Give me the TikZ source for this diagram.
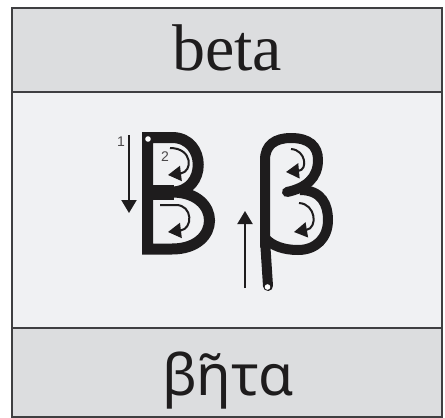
\documentclass[tikz,border=0pt]{standalone}
\usepackage{fontspec}
\setmainfont{Liberation Serif}
\newfontfamily\greekfont{Noto Sans}
\newfontfamily\numfont{Liberation Sans}
\usetikzlibrary{arrows.meta}

\definecolor{bandgray}{HTML}{DCDDDF}
\definecolor{midgray}{HTML}{F0F1F3}
\definecolor{rulegray}{HTML}{3F3F41}
\definecolor{ink}{HTML}{1E1C1D}

\begin{document}
\begin{tikzpicture}[
  x=1pt, y=-1pt,
  band/.style={draw=rulegray, line width=2pt},
  glyph/.style={draw=ink, line width=11pt},
  stroke/.style={draw=ink, line width=2pt, -{Triangle[length=13pt, width=15pt]}},
  hole/.style={fill=white},
  num/.style={font=\numfont\fontsize{14}{14}\selectfont, text=ink!80, inner sep=0pt}
]
  \useasboundingbox (0,0) rectangle (445,418);

  % bands
  \filldraw[band, fill=bandgray] (12,8) rectangle (442,92);
  \filldraw[band, fill=midgray] (12,92) rectangle (442,328);
  \filldraw[band, fill=bandgray] (12,328) rectangle (442,417);

  \node[anchor=base, font=\rmfamily\fontsize{66}{66}\selectfont, text=ink] (latin) at (227,70) {beta};
  \node[anchor=base, font=\greekfont\fontsize{57}{57}\selectfont, text=ink] (greek) at (228,395) {βῆτα};

  % capital B
  \draw[glyph, line join=miter] (147.5,249) -- (147.5,137.5) -- (172,137.5)
    .. controls (207,137.5) and (207,192) .. (172,192)
    .. controls (222,192) and (222,249) .. (172,249) -- cycle;
  \draw[draw=ink, line width=15pt] (147.5,192) -- (174,192);
  \fill[hole] (148,139) circle (2.8);

  % small beta
  \draw[glyph, line width=10pt, line cap=round] (265,246) -- (265,160)
    .. controls (265,145) and (275,138) .. (291,138)
    .. controls (309,138) and (318,146) .. (318,160)
    .. controls (318,178) and (306,188) .. (287,192);
  \draw[glyph, line width=10pt] (300,190)
    .. controls (322,190) and (328,205) .. (328,220)
    .. controls (328,238) and (316,250) .. (298,250)
    .. controls (284,250) and (272,246) .. (265,238);
  \draw[glyph, line width=10pt, line cap=round] (265,240) -- (268,286);
  \fill[hole] (267.5,287) circle (2.8);

  % stroke order
  \coordinate (down1) at (129,135);
  \coordinate (down2) at (129,213);
  \draw[stroke] (down1) -- (down2);
  \node[num] (one) at (121,142) {1};

  \draw[stroke] (170,148) .. controls (193,148) and (193,172) .. (168,175);
  \node[num] (two) at (165,157) {2};
  \draw[stroke] (160,205) -- (176,205) .. controls (193,205) and (193,229) .. (168,232);

  \coordinate (up1) at (245,288);
  \coordinate (up2) at (245,211);
  \draw[stroke] (up1) -- (up2);

  \draw[stroke] (291,149) .. controls (306,150) and (308,170) .. (286,172);
  \draw[stroke] (299,203) .. controls (316,204) and (318,228) .. (294,232);
\end{tikzpicture}
\end{document}
